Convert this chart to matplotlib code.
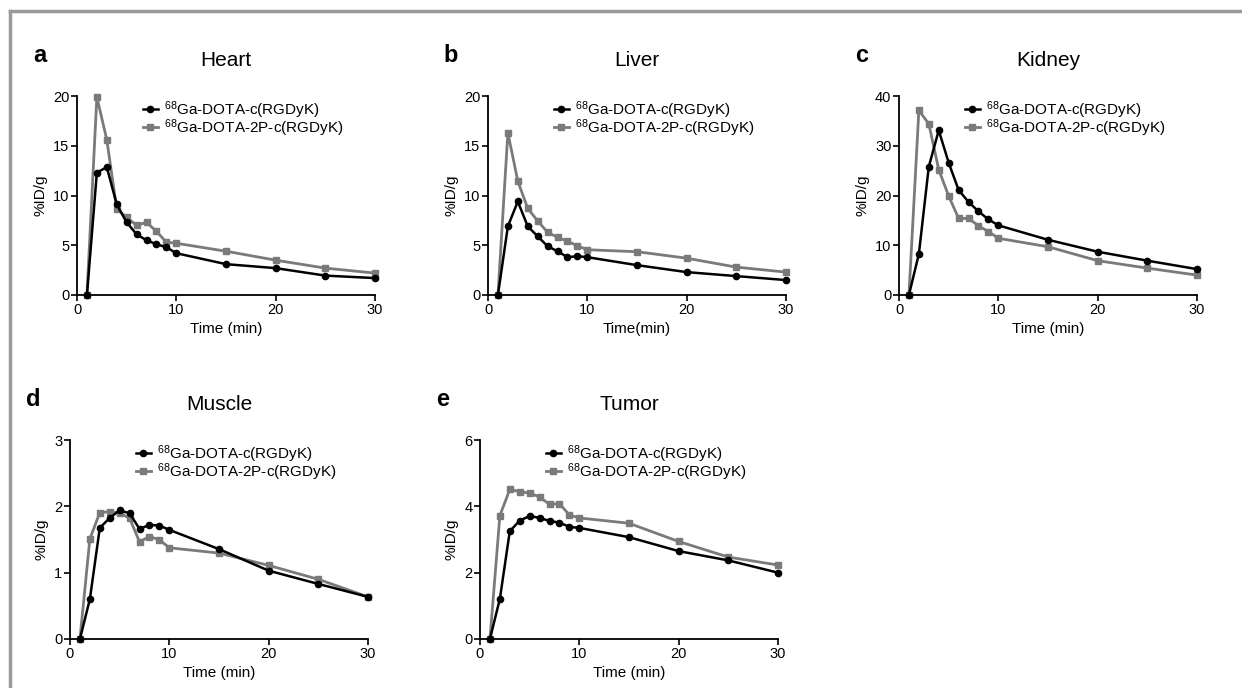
"""Biodistribution time-activity curves, 68Ga-DOTA-c(RGDyK) vs 68Ga-DOTA-2P-c(RGDyK)."""

import matplotlib
matplotlib.use("Agg")
import matplotlib.pyplot as plt  # noqa: E402
from matplotlib.lines import Line2D  # noqa: E402

plt.rcParams.update({
    "font.family": ["Liberation Sans", "DejaVu Sans"],
    "mathtext.default": "regular",
    "axes.spines.top": False, "axes.spines.right": False,
})

# time points (min)
time = [1, 2, 3, 4, 5, 6, 7, 8, 9, 10, 15, 20, 25, 30]

heart_c = [0, 12.3, 12.85, 9.1, 7.3, 6.1, 5.5, 5.1, 4.8, 4.2, 3.1, 2.7, 1.95, 1.7]
heart_2p = [0, 19.9, 15.6, 8.65, 7.8, 7.0, 7.3, 6.4, 5.3, 5.2, 4.4, 3.5, 2.7, 2.2]

liver_c = [0, 6.9, 9.4, 6.9, 5.9, 4.9, 4.4, 3.8, 3.9, 3.8, 3.0, 2.3, 1.9, 1.5]
liver_2p = [0, 16.3, 11.45, 8.7, 7.45, 6.3, 5.8, 5.4, 4.95, 4.55, 4.35, 3.7, 2.8, 2.3]

kidney_c = [0, 8.25, 25.8, 33.1, 26.6, 21.1, 18.7, 16.8, 15.2, 14.0, 11.1, 8.7, 6.9, 5.2]
kidney_2p = [0, 37.1, 34.4, 25.2, 19.9, 15.4, 15.4, 13.9, 12.75, 11.4, 9.7, 6.9, 5.4, 4.0]

muscle_c = [0, 0.6, 1.675, 1.825, 1.94, 1.895, 1.66, 1.72, 1.71, 1.645, 1.355, 1.03, 0.83, 0.635]
muscle_2p = [0, 1.51, 1.905, 1.92, 1.9, 1.82, 1.465, 1.545, 1.495, 1.375, 1.295, 1.11, 0.9, 0.635]

tumor_c = [0, 1.21, 3.25, 3.57, 3.71, 3.65, 3.56, 3.51, 3.38, 3.35, 3.07, 2.65, 2.37, 2.0]
tumor_2p = [0, 3.72, 4.51, 4.44, 4.40, 4.28, 4.06, 4.08, 3.74, 3.65, 3.49, 2.94, 2.47, 2.23]

LABEL_C = r"$^{68}$Ga-DOTA-c(RGDyK)"
LABEL_2P = r"$^{68}$Ga-DOTA-2P-c(RGDyK)"
GRAY = "#7a7a7a"

# (letter, title, c, 2p, ymax, ystep, xlabel, axes rect in px: left, top)
PANELS = [
    ("a", "Heart", heart_c, heart_2p, 20, 5, "Time (min)", 77, 96),
    ("b", "Liver", liver_c, liver_2p, 20, 5, "Time(min)", 488, 96),
    ("c", "Kidney", kidney_c, kidney_2p, 40, 10, "Time (min)", 899, 96),
    ("d", "Muscle", muscle_c, muscle_2p, 3, 1, "Time (min)", 70, 440),
]
PANELS.append(("e", "Tumor", tumor_c, tumor_2p, 6, 2, "Time (min)", 480, 440))

W, H = 1242, 688
fig = plt.figure(figsize=(W / 100, H / 100), dpi=100)

# partial grey frame (top and left edges)
fig.add_artist(Line2D([10 / W, 10 / W], [0, 1 - 11 / H], transform=fig.transFigure,
                      color="#9a9a9a", lw=2.5))
fig.add_artist(Line2D([10 / W, 1], [1 - 11 / H, 1 - 11 / H], transform=fig.transFigure,
                      color="#9a9a9a", lw=2.5))

for letter, title, yc, y2p, ymax, ystep, xlab, left, top in PANELS:
    aw, ah = 298, 199
    ax = fig.add_axes([left / W, 1 - (top + ah) / H, aw / W, ah / H])
    ax.plot(time, yc, color="black", marker="o", markersize=4.5, lw=1.8,
            label=LABEL_C, zorder=3, clip_on=False)
    ax.plot(time, y2p, color=GRAY, marker="s", markersize=5, lw=2.0,
            label=LABEL_2P, zorder=2, clip_on=False)
    ax.set_xlim(0, 30)
    ax.set_ylim(0, ymax)
    ax.set_xticks([0, 10, 20, 30])
    ax.set_yticks(range(0, ymax + 1, ystep))
    for s in ("left", "bottom"):
        ax.spines[s].set_linewidth(1.3)
    ax.tick_params(length=4, width=1.2, labelsize=10.5, pad=1.5)
    ax.set_xlabel(xlab, fontsize=11, labelpad=4)
    ax.set_ylabel("%ID/g", fontsize=11, labelpad=4)
    ax.legend(loc="upper left", bbox_to_anchor=(0.2, 1.015), frameon=False,
              fontsize=11, handlelength=1.0, handletextpad=0.4, labelspacing=-0.25,
              borderaxespad=0)
    ax.text(0.5, 1.0 + 35 / ah, title, transform=ax.transAxes, ha="center",
            va="center", fontsize=15)
    ax.text(-37 / aw, 1.0 + 40 / ah, letter, transform=ax.transAxes, ha="center",
            va="center", fontsize=17, fontweight="bold")

fig.savefig("out.png", dpi=100, facecolor="white")
